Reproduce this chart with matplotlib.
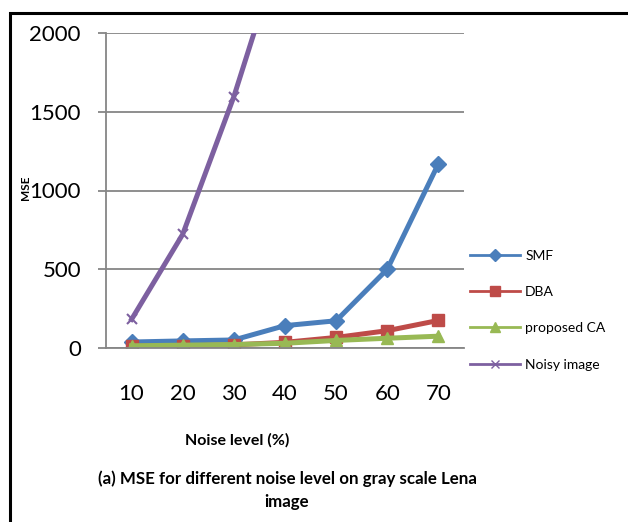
import matplotlib
matplotlib.use('Agg')
import matplotlib.pyplot as plt
from matplotlib.lines import Line2D
from matplotlib.patches import Rectangle

plt.rcParams['font.family'] = ['Lato', 'DejaVu Sans']

# data
noise_levels = ['10', '20', '30', '40', '50', '60', '70']
smf = [38, 45, 51, 142, 173, 500, 1170]
dba = [12, 14, 20, 36, 67, 110, 175]
proposed_ca = [14, 18, 22, 30, 48, 62, 75]
noisy_image = [182, 722, 1596, 2620, 3700, 4800, 5900]

series = [
    ('SMF', smf, '#4A7EBB', 'D', 8, 6),
    ('DBA', dba, '#BE4B48', 's', 8, 7),
    ('proposed CA', proposed_ca, '#98B954', '^', 9, 7),
    ('Noisy image', noisy_image, '#7D60A0', 'x', 7, 6),
]

fig = plt.figure(figsize=(6.28, 5.22), dpi=100)
ax = fig.add_axes([106 / 628, 1 - 348 / 522, 358 / 628, 315 / 522])

x = list(range(len(noise_levels)))
handles = []
for name, vals, col, mk, ms, lms in series:
    ax.plot(x, vals, color=col, lw=3.6, marker=mk, markersize=ms,
            markeredgecolor=col, markeredgewidth=1.5 if mk == 'x' else 1)
    handles.append(Line2D([], [], color=col, lw=2, marker=mk,
                          markersize=lms, markeredgecolor=col, label=name))

ax.set_xlim(-0.5, 6.5)
ax.set_ylim(0, 2000)
ax.set_yticks([0, 500, 1000, 1500, 2000])
ax.set_xticks(x)
ax.set_xticklabels(noise_levels)
ax.grid(axis='y', color='#868686', lw=1.3)
ax.set_axisbelow(True)
for s in ['top', 'right']:
    ax.spines[s].set_visible(False)
for s in ['left', 'bottom']:
    ax.spines[s].set_color('#868686')
    ax.spines[s].set_linewidth(1.3)
ax.tick_params(axis='y', length=6, color='#868686', width=1.3, pad=12, labelsize=16)
ax.tick_params(axis='x', length=0, pad=26, labelsize=16)

ax.legend(handles=handles, loc='upper left', bbox_to_anchor=(1.0, 0.33),
          frameon=False, fontsize=10, handlelength=3.6, handletextpad=0.4,
          labelspacing=1.75, borderaxespad=0)

fig.text(25 / 628, 1 - 188 / 522, 'MSE', rotation=90, fontsize=8.5,
         fontweight='bold', ha='center', va='center')
fig.text(237 / 628, 1 - 440 / 522, 'Noise level (%)', fontsize=11.5,
         fontweight='bold', ha='center', va='center')
fig.text(287 / 628, 1 - 490 / 522,
         '(a) MSE for different noise level on gray scale Lena\nimage',
         fontsize=12.2, fontweight='bold', ha='center', va='center',
         linespacing=1.55)

# outer frame (cut off at right and bottom)
fig.patches.append(Rectangle((10 / 628, -0.1), 1.2, 1 - 13 / 522 + 0.1,
                             transform=fig.transFigure, fill=False,
                             edgecolor='black', lw=2.2))

fig.savefig('out.png', dpi=100)
